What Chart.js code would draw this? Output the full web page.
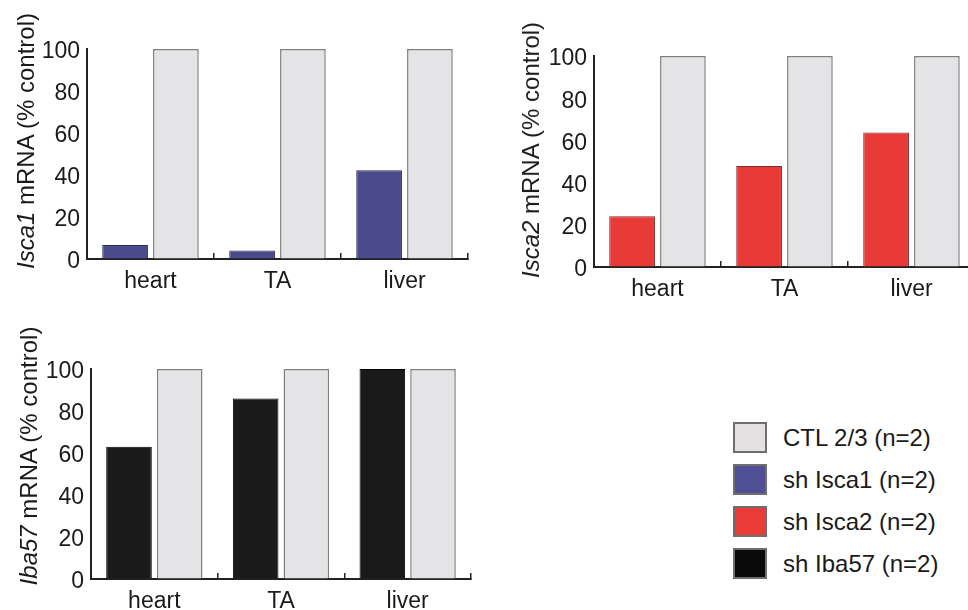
<!DOCTYPE html>
<html>
<head>
<meta charset="utf-8">
<script src="https://cdn.jsdelivr.net/npm/chart.js@4"></script>
<style>
  html, body { margin: 0; padding: 0; background: #fff; overflow: hidden; }
  body { width: 968px; height: 610px; position: relative; font-family: "Liberation Sans", Arial, sans-serif; color: #1a1a1a; }
  .box { position: absolute; }
  .ytitle { position: absolute; white-space: nowrap; font-size: 24px; line-height: 1; transform: translate(-50%, -50%) rotate(-90deg); }
  .ytitle i { font-style: italic; }
  #legend { position: absolute; left: 733px; top: 422px; }
  .leg-row { display: flex; align-items: center; height: 31px; margin-bottom: 11px; font-size: 24px; }
  .leg-sw { width: 30px; height: 27px; border: 2px solid #6e6e6e; margin-right: 16px; }
</style>
</head>
<body>
<div class="box" style="left:0;top:0;width:480px;height:300px"><canvas id="c1"></canvas></div>
<div class="box" style="left:500px;top:0;width:490px;height:310px"><canvas id="c2"></canvas></div>
<div class="box" style="left:0;top:320px;width:480px;height:290px"><canvas id="c3"></canvas></div>

<div class="ytitle" style="left:26px;top:141px"><i>Isca1</i> mRNA (% control)</div>
<div class="ytitle" style="left:531px;top:150px"><i>Isca2</i> mRNA (% control)</div>
<div class="ytitle" style="left:29px;top:456px"><i>Iba57</i> mRNA (% control)</div>

<div id="legend"></div>

<script>
const tissues = ['heart', 'TA', 'liver'];
const ctlValues = [100, 100, 100];
const isca1Values = [6.7, 4.0, 42.3];
const isca2Values = [24.1, 47.9, 63.8];
const iba57Values = [63.0, 85.9, 100];

const legendNames = ['CTL 2/3 (n=2)', 'sh Isca1 (n=2)', 'sh Isca2 (n=2)', 'sh Iba57 (n=2)'];
const legendColors = ['#e2e0e1', '#4f4f96', '#e93c38', '#0a0a0a'];

const ctlColor = '#e4e3e5';
const axisColor = '#222';

const makeChart = (id, values, color, edge, size) => {
    const ctx = document.getElementById(id).getContext('2d');
    return new Chart(ctx, {
        type: 'bar',
        data: {
            labels: tissues,
            datasets: [
                { data: values, backgroundColor: color, borderColor: edge, borderWidth: 1 },
                { data: ctlValues, backgroundColor: ctlColor, borderColor: '#7f7f7f', borderWidth: 1.5 }
            ]
        },
        options: {
            responsive: true,
            maintainAspectRatio: false,
            animation: false,
            layout: { padding: { top: size.top, right: size.right, left: 0, bottom: 0 } },
            categoryPercentage: 0.8,
            barPercentage: 0.9,
            plugins: { legend: { display: false }, tooltip: { enabled: false } },
            scales: {
                x: {
                    z: 1,
                    grid: { offset: true, drawOnChartArea: false, color: axisColor, lineWidth: 1.5, tickLength: -6 },
                    border: { color: axisColor, width: 2 },
                    ticks: { color: '#1a1a1a', font: { family: 'Liberation Sans', size: 23 }, padding: 15 },
                    afterFit: s => { s.height = size.xh; }
                },
                y: {
                    min: 0,
                    max: 100,
                    z: 1,
                    grid: { drawOnChartArea: false, drawTicks: false },
                    border: { color: axisColor, width: 2 },
                    ticks: { stepSize: 20, color: '#1a1a1a', font: { family: 'Liberation Sans', size: 23 }, padding: 7, labelOffset: 3 },
                    afterFit: s => { s.width = size.yw; }
                }
            }
        }
    });
};

makeChart('c1', isca1Values, '#4b4a8c', '#2c2c5a', { top: 49, right: 12, xh: 41, yw: 87 });
makeChart('c2', isca2Values, '#e83b37', '#7a2a28', { top: 56, right: 15, xh: 43, yw: 94 });
makeChart('c3', iba57Values, '#1a1a1a', '#000', { top: 49, right: 9, xh: 31, yw: 91 });

const legendEl = document.getElementById('legend');
legendNames.forEach((name, i) => {
    const row = document.createElement('div');
    row.className = 'leg-row';
    row.innerHTML = `<div class="leg-sw" style="background:${legendColors[i]}"></div><span>${name}</span>`;
    legendEl.appendChild(row);
});
</script>
</body>
</html>
